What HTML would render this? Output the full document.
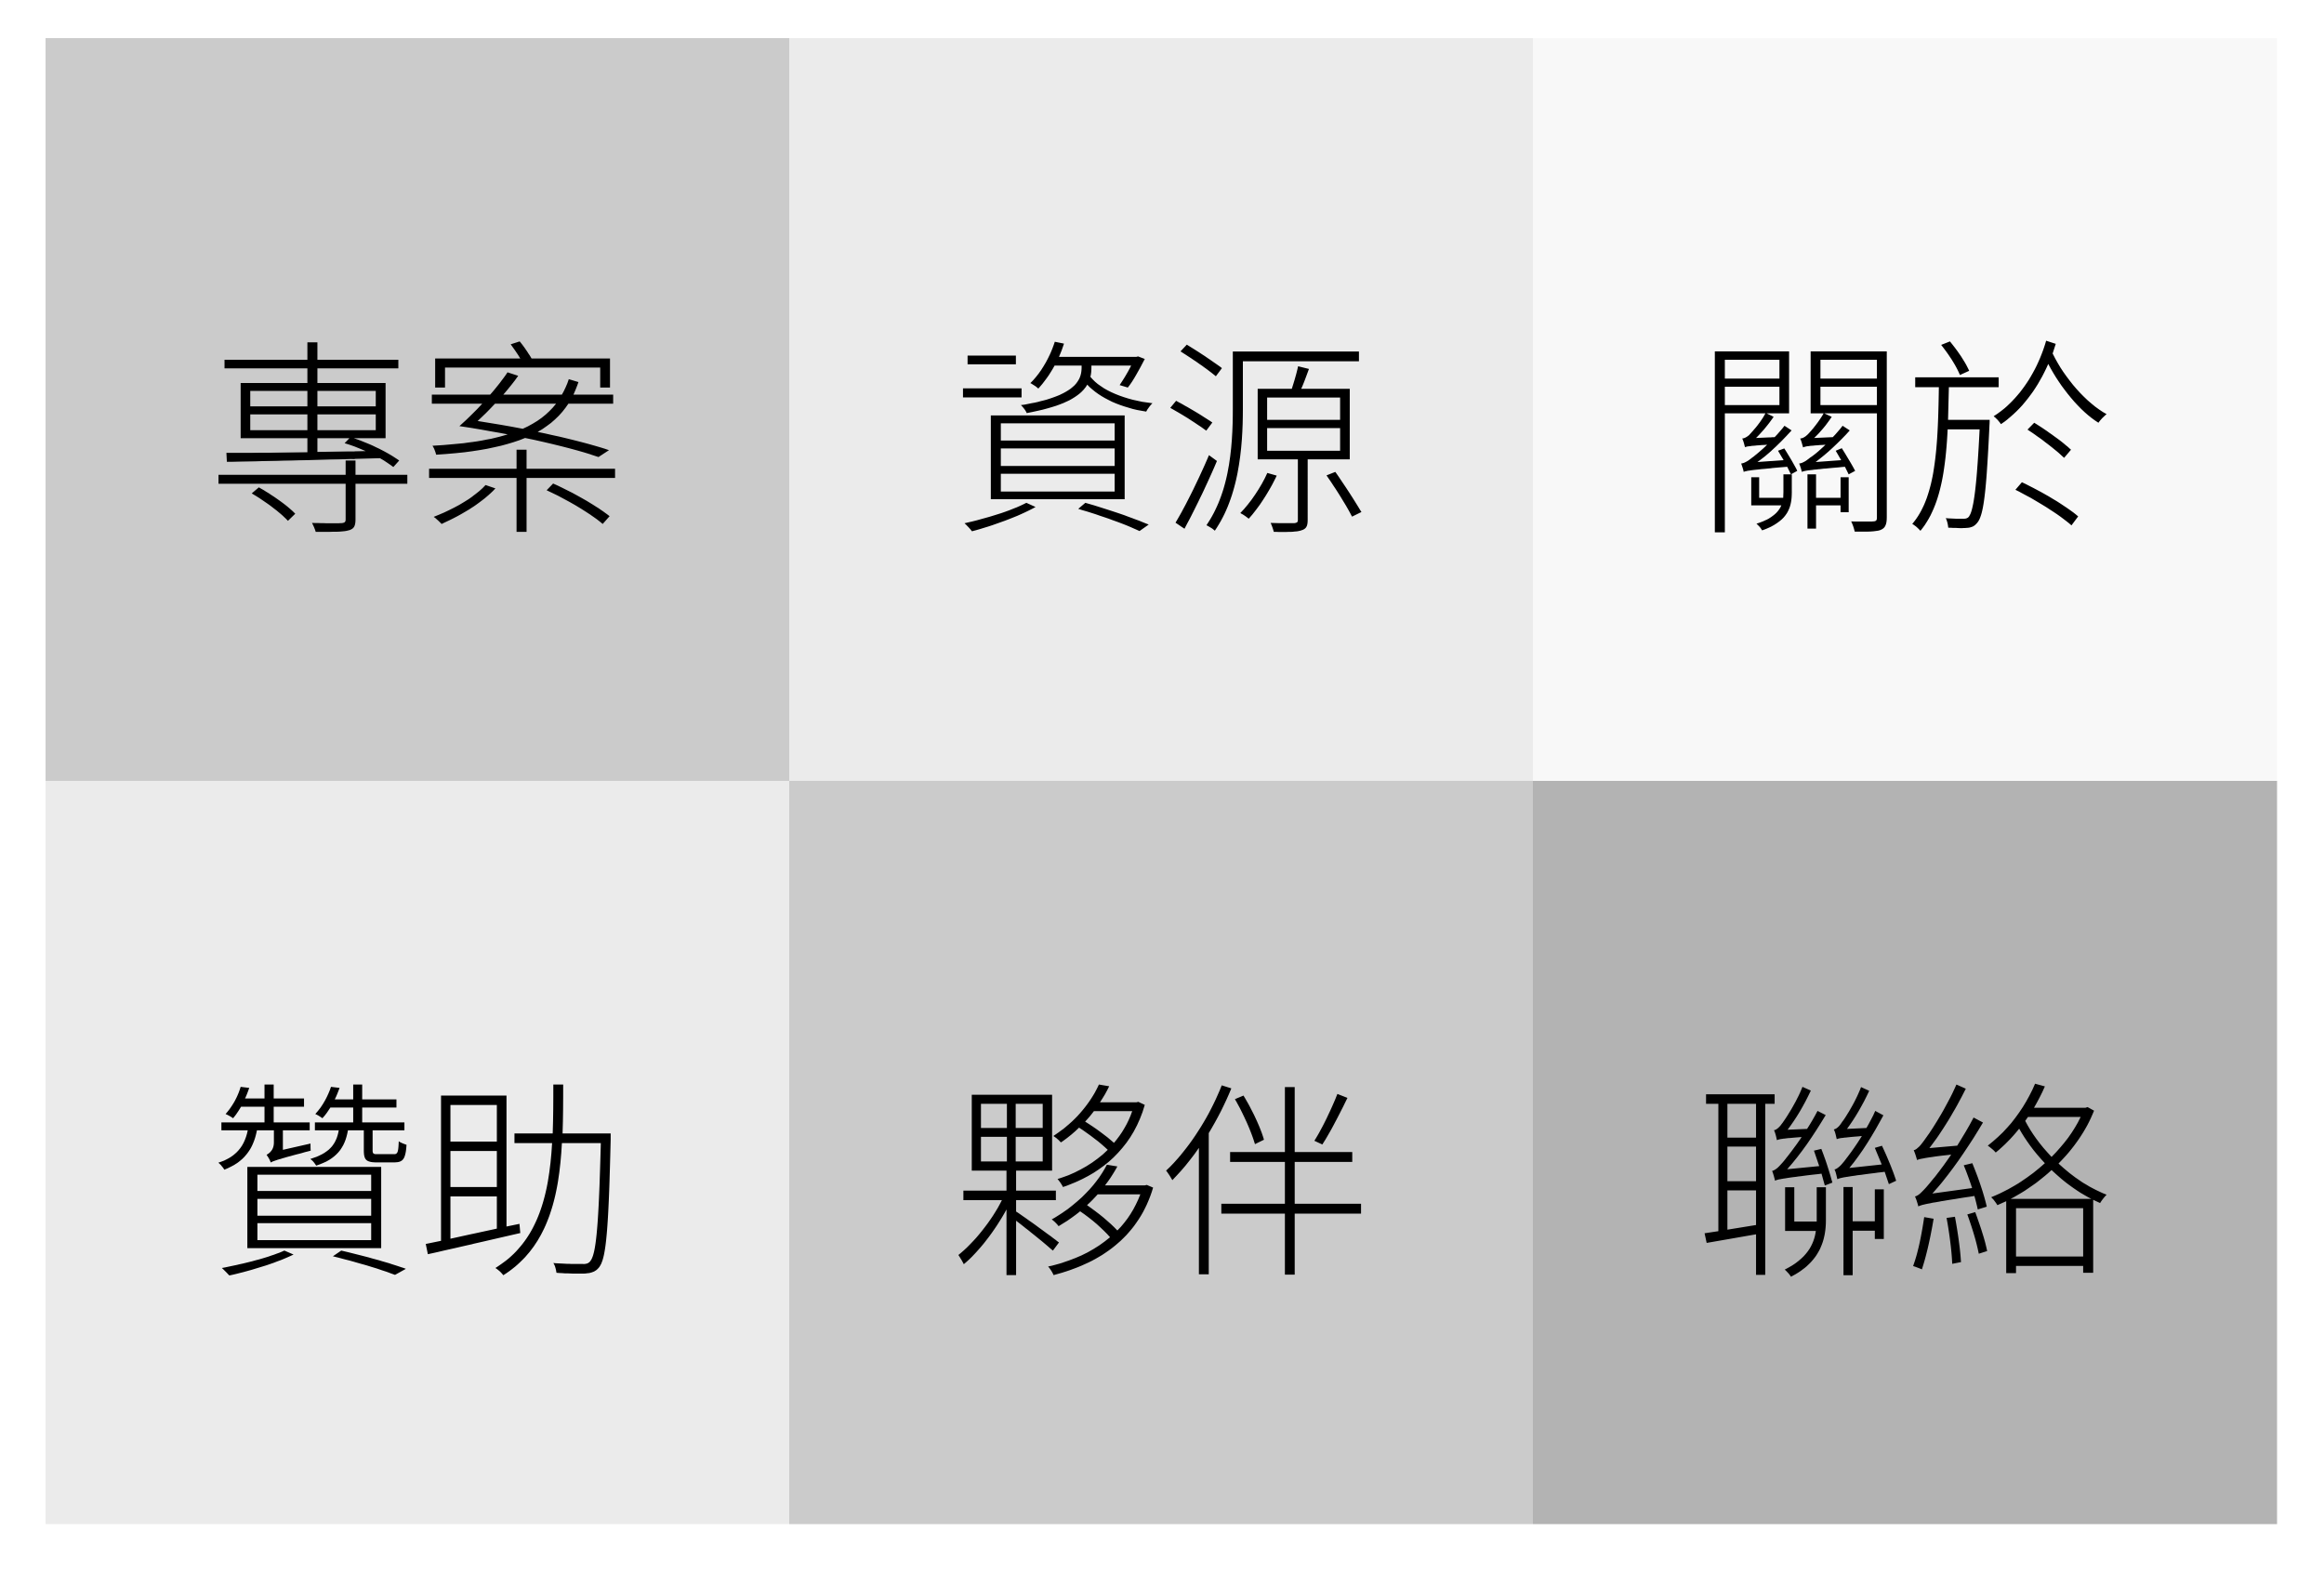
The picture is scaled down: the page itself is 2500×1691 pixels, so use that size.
<!DOCTYPE html>
<html>
<head>
<meta charset="utf-8">
<style>
  html,body{margin:0;padding:0;background:#fff;}
  body{width:2500px;height:1686px;overflow:hidden;}
  svg text{font-family:"Liberation Sans","Noto Sans CJK TC",sans-serif;font-weight:300;}
</style>
</head>
<body>
<svg id="chart" width="2500" height="1686" viewBox="0 0 2500 1686" xmlns="http://www.w3.org/2000/svg"></svg>
<script>
const rowLabels = [["專案","資源","關於"],["贊助","夥伴","聯絡"]];
const values = [[45,13,0],[13,45,69]];
const nCols = 3;
const nRows = 2;

const gridLeft = 49, gridTop = 41, gridRight = 2449, gridBottom = 1639;
const cw = (gridRight-gridLeft)/nCols, ch = (gridBottom-gridTop)/nRows;
function xPos(c){return gridLeft + c*cw;}
function yPos(r){return gridTop + r*ch;}
function color(v){const g=Math.round(248 - v);return `rgb(${g},${g},${g})`;}

const svgEl = document.getElementById('chart');
const NS = 'http://www.w3.org/2000/svg';
for(let r=0;r<nRows;r++){
  for(let c=0;c<nCols;c++){
    const rect = document.createElementNS(NS,'rect');
    
    
    rect.setAttribute('x', xPos(c));
    rect.setAttribute('y', yPos(r));
    rect.setAttribute('width', cw+0.5);
    rect.setAttribute('height', ch+0.5);
    rect.setAttribute('fill', color(values[r][c]));
    svgEl.appendChild(rect);
    const t = document.createElementNS(NS,'text');
    
    
    t.setAttribute('x', xPos(c)+cw/2);
    t.setAttribute('y', yPos(r)+ch/2+37);
    t.setAttribute('text-anchor','middle');
    t.setAttribute('dominant-baseline','central');
    t.setAttribute('font-size','225');
    t.setAttribute('fill','#000');
    t.textContent = rowLabels[r][c];
    svgEl.appendChild(t);
  }
}
</script>
</body>
</html>
